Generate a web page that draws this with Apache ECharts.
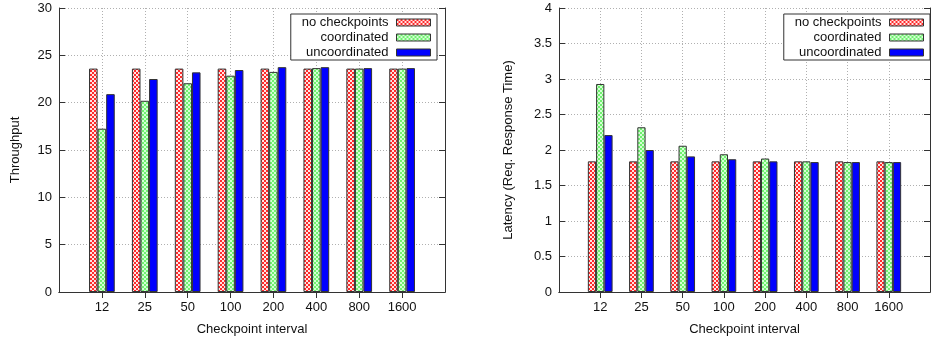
<!DOCTYPE html>
<html>
<head>
<meta charset="utf-8">
<script src="https://cdn.jsdelivr.net/npm/echarts@6/dist/echarts.min.js"></script>
<style>
  html, body { margin: 0; padding: 0; background: #fff; }
  #main { width: 933px; height: 341px; }
</style>
</head>
<body>
<div id="main"></div>
<script>
// data
var categories = ["12", "25", "50", "100", "200", "400", "800", "1600"];
var seriesNames = ["no checkpoints", "coordinated", "uncoordinated"];

var tputNone = [23.6, 23.6, 23.6, 23.6, 23.6, 23.6, 23.6, 23.6];
var tputCoord = [17.25, 20.2, 22.05, 22.85, 23.25, 23.65, 23.6, 23.6];
var tputUncoord = [20.9, 22.5, 23.2, 23.45, 23.75, 23.75, 23.65, 23.65];

var latNone = [1.84, 1.84, 1.84, 1.84, 1.84, 1.84, 1.84, 1.84];
var latCoord = [2.93, 2.32, 2.06, 1.94, 1.88, 1.84, 1.83, 1.83];
var latUncoord = [2.21, 2.0, 1.91, 1.87, 1.84, 1.83, 1.83, 1.83];

var tputTicks = [0, 5, 10, 15, 20, 25, 30];
var latTicks = [0, 0.5, 1, 1.5, 2, 2.5, 3, 3.5, 4];

// gnuplot leaves one empty slot on each side
var axisCats = [""].concat(categories, [""]);
function pad(arr) {
  return [null].concat(arr, [null]);
}

// checkered fills like gnuplot's patterns
function checker(c1, c2) {
  var cv = document.createElement("canvas");
  cv.width = 4;
  cv.height = 4;
  var ctx = cv.getContext("2d");
  ctx.fillStyle = c2;
  ctx.fillRect(0, 0, 4, 4);
  ctx.fillStyle = c1;
  ctx.fillRect(0, 0, 2, 2);
  ctx.fillRect(2, 2, 2, 2);
  return { image: cv, repeat: "repeat" };
}
var fills = [
  checker("#ff2a2a", "#ffe4e4"),
  checker("#70f070", "#d4ffd4"),
  "#0000ff"
];

var font = "Liberation Sans";
var gridLine = { show: true, lineStyle: { color: "#b0b0b0", type: [1, 2], width: 1 } };
var axLine = { show: true, lineStyle: { color: "#333", width: 1 } };
var inTick = { show: true, inside: true, length: 6, lineStyle: { color: "#333" } };
var edgeSkip = function (idx) { return idx > 0 && idx < axisCats.length - 1; };

function xAxes(gi) {
  return [
    {
      type: "category", gridIndex: gi, data: axisCats, boundaryGap: false,
      position: "bottom",
      axisLine: axLine,
      axisTick: { show: true, inside: true, length: 6, interval: edgeSkip, lineStyle: { color: "#333" } },
      axisLabel: { color: "#111", fontFamily: font, fontSize: 13, margin: 9, interval: 0 },
      splitLine: { show: true, interval: edgeSkip, lineStyle: gridLine.lineStyle },
      name: "Checkpoint interval", nameLocation: "middle", nameGap: 31,
      nameTextStyle: { color: "#111", fontFamily: font, fontSize: 13 }
    },
    {
      type: "category", gridIndex: gi, data: axisCats, boundaryGap: false,
      position: "top",
      axisLine: axLine,
      axisTick: { show: true, inside: true, length: 6, interval: edgeSkip, lineStyle: { color: "#333" } },
      axisLabel: { show: false },
      splitLine: { show: false }
    }
  ];
}

function yAxes(gi, max, step, name, gap) {
  return [
    {
      type: "value", gridIndex: gi, min: 0, max: max, interval: step,
      position: "left",
      axisLine: axLine, axisTick: inTick,
      axisLabel: { color: "#111", fontFamily: font, fontSize: 13, margin: 7 },
      splitLine: gridLine,
      name: name, nameLocation: "middle", nameGap: gap,
      nameTextStyle: { color: "#111", fontFamily: font, fontSize: 13 }
    },
    {
      type: "value", gridIndex: gi, min: 0, max: max, interval: step,
      position: "right",
      axisLine: axLine, axisTick: inTick,
      axisLabel: { show: false }, splitLine: { show: false }
    }
  ];
}

function bars(gi, lists) {
  return lists.map(function (vals, i) {
    return {
      name: seriesNames[i], type: "bar",
      xAxisIndex: gi * 2, yAxisIndex: gi * 2,
      data: pad(vals),
      barWidth: "20%", barGap: "0%",
      itemStyle: { color: fills[i], borderColor: "#333", borderWidth: 1 },
      silent: true
    };
  });
}

function legendAt(rightPx) {
  return {
    orient: "vertical", align: "right",
    right: rightPx, top: 14,
    data: seriesNames,
    itemWidth: 34, itemHeight: 7, itemGap: 0,
    padding: [1, 6, 0, 11],
    borderColor: "#333", borderWidth: 1,
    backgroundColor: "#fff",
    selectedMode: false,
    icon: "rect",
    itemStyle: { borderColor: "#333", borderWidth: 1 },
    textStyle: { color: "#111", fontFamily: font, fontSize: 13, lineHeight: 15, padding: [0, 3, 0, 0] }
  };
}

var chart = echarts.init(document.getElementById("main"));
chart.setOption({
  animation: false,
  backgroundColor: "#fff",
  grid: [
    { left: 59, top: 8, width: 386, height: 285, show: false },
    { left: 559, top: 8, width: 378, height: 285, show: false }
  ],
  xAxis: xAxes(0).concat(xAxes(1)),
  yAxis: yAxes(0, tputTicks[tputTicks.length - 1], tputTicks[1], "Throughput", 37)
    .concat(yAxes(1, latTicks[latTicks.length - 1], latTicks[1], "Latency (Req. Response Time)", 44)),
  legend: [legendAt(933 - 437), legendAt(3)],
  series: bars(0, [tputNone, tputCoord, tputUncoord])
    .concat(bars(1, [latNone, latCoord, latUncoord]))
});
</script>
</body>
</html>
